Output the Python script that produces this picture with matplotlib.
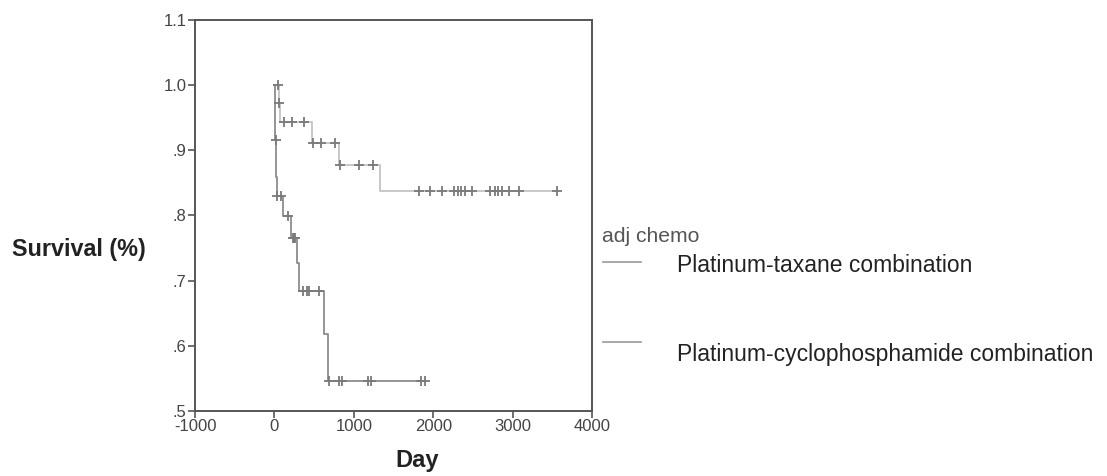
import numpy as np
import matplotlib
matplotlib.use("Agg")
import matplotlib.pyplot as plt

plt.rcParams['font.family'] = ['Liberation Sans', 'DejaVu Sans']
plt.rcParams['axes.unicode_minus'] = False

# Kaplan-Meier steps (day of event, survival after event)
taxane_days = [0, 60, 70, 470, 817, 1332]
taxane_surv = [1.0, 0.972, 0.944, 0.911, 0.877, 0.838]
taxane_censor = [45, 63, 118, 219, 377, 482, 587, 766, 829, 1068, 1236,
                 1822, 1960, 2116, 2261, 2312, 2354, 2400, 2484, 2714,
                 2773, 2814, 2870, 2952, 3078, 3560]

cyclo_days = [0, 10, 20, 28, 113, 210, 285, 314, 628, 671]
cyclo_surv = [1.0, 0.916, 0.859, 0.830, 0.799, 0.766, 0.727, 0.684, 0.618, 0.546]
cyclo_censor = [15, 35, 84, 176, 235, 245, 255, 357, 405, 430, 565,
                683, 809, 847, 1181, 1215, 1852, 1893]

x_ticks = [-1000, 0, 1000, 2000, 3000, 4000]
y_ticks = [0.5, 0.6, 0.7, 0.8, 0.9, 1.0, 1.1]
y_ticklabels = ['.5', '.6', '.7', '.8', '.9', '1.0', '1.1']

legend_title = 'adj chemo'
legend_labels = ['Platinum-taxane combination', 'Platinum-cyclophosphamide combination']


def km_at(t, days, surv):
    idx = np.searchsorted(days, t, side='right') - 1
    return np.asarray(surv)[idx]


def draw_curve(ax, days, surv, censor, color):
    end = max(censor)
    xs = list(days) + [end]
    ys = list(surv) + [surv[-1]]
    ax.step(xs, ys, where='post', color=color, lw=1.3, zorder=2)
    cy = km_at(np.array(censor), days, surv)
    ax.plot(censor, cy, ls='none', marker='+', ms=7, mew=1.3,
            color='#7a7a7a', zorder=3)


fig = plt.figure(figsize=(11.07, 4.76), dpi=100)
ax = fig.add_axes([0.1762, 0.1366, 0.3586, 0.8214])

draw_curve(ax, taxane_days, taxane_surv, taxane_censor, '#c4c4c4')
draw_curve(ax, cyclo_days, cyclo_surv, cyclo_censor, '#8c8c8c')

ax.set_xlim(-1000, 4000)
ax.set_ylim(0.5, 1.1)
ax.set_xticks(x_ticks)
ax.set_yticks(y_ticks)
ax.set_yticklabels(y_ticklabels)
ax.tick_params(direction='out', length=5, width=1.2, color='#555555',
               labelsize=12, labelcolor='#444444', pad=1)
for sp in ax.spines.values():
    sp.set_color('#555555')
    sp.set_linewidth(1.4)

fig.text(12 / 1107, 0.475, 'Survival (%)', fontsize=16.8, fontweight='bold',
         color='#222222', va='center', ha='left')
fig.text(417 / 1107, 1 - 460 / 476, 'Day', fontsize=17, fontweight='bold',
         color='#222222', va='center', ha='center')

# legend drawn by hand to match placement
fig.text(602 / 1107, 1 - 236 / 476, legend_title, fontsize=15.2,
         color='#555555', va='center', ha='left')
leg_y = [262, 342]
text_y = [266, 354]
for lab, ly, ty in zip(legend_labels, leg_y, text_y):
    fig.add_artist(plt.Line2D([603 / 1107, 641 / 1107], [1 - ly / 476, 1 - ly / 476],
                              color='#9a9a9a', lw=1.2))
    fig.text(677 / 1107, 1 - ty / 476, lab, fontsize=16.5, color='#222222',
             va='center', ha='left')

fig.savefig('out.png', dpi=100)
